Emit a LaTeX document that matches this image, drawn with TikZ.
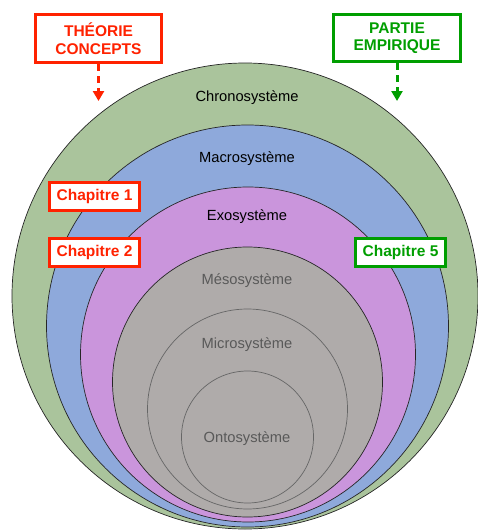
\documentclass[tikz,border=0pt]{standalone}
\usepackage{fontspec}
\setmainfont{Liberation Sans}
\usetikzlibrary{arrows.meta}
\definecolor{chrono}{HTML}{AAC49C}
\definecolor{macro}{HTML}{8EA9DB}
\definecolor{exo}{HTML}{CA95DC}
\definecolor{meso}{HTML}{AFABAA}
\definecolor{theo}{HTML}{FF2200}
\definecolor{empi}{HTML}{009E00}
\definecolor{innertext}{HTML}{595959}
\tikzset{
  ring/.style={draw=black!85, line width=0.7pt},
  inring/.style={draw=black!60, line width=0.7pt},
  layer/.style={font=\fontsize{14.7}{17}\selectfont},
  partbox/.style={draw=#1, text=#1, line width=3pt, fill=white, align=center,
    font=\fontsize{15.5}{17.5}\selectfont\bfseries, inner sep=0pt},
  chapbox/.style={partbox=#1, minimum width=90pt, minimum height=28pt},
  partarrow/.style={draw=#1, line width=3pt, dash pattern=on 7pt off 5pt,
    -{Triangle[width=11pt,length=10pt,fill=#1]}}
}
\begin{document}
\begin{tikzpicture}[x=1pt,y=-1pt]
  \useasboundingbox (0,0) rectangle (477,530);
  % nested systems
  \filldraw[ring, fill=chrono] (245,296) circle[radius=233pt];
  \filldraw[ring, fill=macro] (247.5,326) circle[radius=201pt];
  \filldraw[ring, fill=exo] (248,354.5) circle[radius=167.5pt];
  \filldraw[ring, fill=meso] (247.5,382) circle[radius=135pt];
  \draw[inring] (247.5,409) circle[radius=100pt];
  \draw[inring] (247.5,437) circle[radius=66pt];

  \node[layer] (chrono) at (247,98) {Chronosystème};
  \node[layer] (macro) at (247,159) {Macrosystème};
  \node[layer] (exo) at (247,217) {Exosystème};
  \node[layer, text=innertext] (meso) at (247,281) {Mésosystème};
  \node[layer, text=innertext] (micro) at (247,345) {Microsystème};
  \node[layer, text=innertext] (onto) at (247,439) {Ontosystème};

  % parts of the thesis
  \node[partbox=theo, minimum width=126pt, minimum height=48pt] (theorie) at (98.5,38.5) {THÉORIE\\CONCEPTS};
  \node[partbox=empi, minimum width=127pt, minimum height=47pt] (empirique) at (397,38) {PARTIE\\EMPIRIQUE};
  \coordinate (theorietip) at (98.5,101);
  \coordinate (empiriquetip) at (397,101);
  \draw[partarrow=theo] (theorie.south) -- (theorietip);
  \draw[partarrow=empi] (empirique.south) -- (empiriquetip);

  \node[chapbox=theo] (chap1) at (94.5,196.5) {Chapitre 1};
  \node[chapbox=theo] (chap2) at (94.5,252.5) {Chapitre 2};
  \node[chapbox=empi] (chap5) at (400.5,252.5) {Chapitre 5};
\end{tikzpicture}
\end{document}
